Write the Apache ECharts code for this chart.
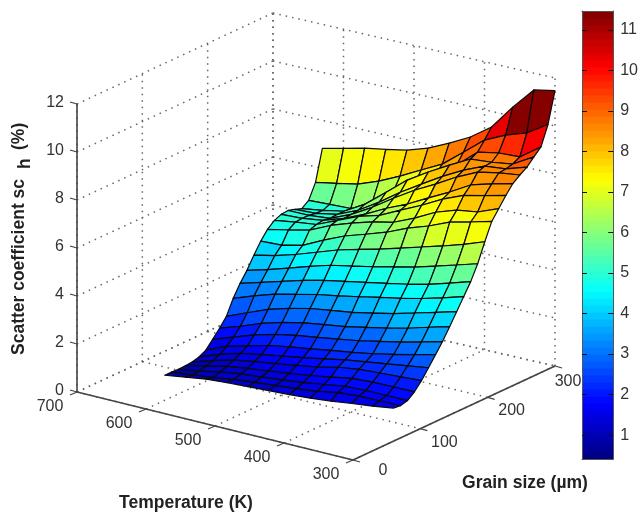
<!DOCTYPE html>
<html><head><meta charset="utf-8">
<script src="https://cdn.jsdelivr.net/npm/echarts@6/dist/echarts.min.js"></script>
<style>html,body{margin:0;padding:0;background:#fff}#c{width:641px;height:515px;filter:blur(0.4px)}</style>
</head><body><div id="c"></div>
<script>
// ---- data ----
const temperatureNodes = [630,600,570,540,510,480,450,420,390,360,330,300];
const grainNodes = [60,70.4,80.9,91.3,101.7,112.2,122.6,133,143.5,153.9,164.3,174.8,185.2,195.7,206.1,216.5,227,237.4,247.8,258.3,268.7,279.1,289.6,300];
const scatterRows = [
[.43,.56,.69,.75,.80,.84,.89,.95,1.04,1.15,1.25,1.38],
[.43,.52,.62,.75,.84,.92,1.0,1.1,1.26,1.32,1.34,1.34],
[.41,.55,.72,.85,.93,1.02,1.12,1.25,1.38,1.42,1.42,1.42],
[.43,.62,.82,.95,1.05,1.16,1.28,1.42,1.58,1.63,1.64,1.65],
[.45,.72,.95,1.1,1.22,1.36,1.5,1.7,1.82,1.88,1.93,1.98],
[.53,.85,1.1,1.25,1.4,1.55,1.7,1.87,2.0,2.12,2.25,2.38],
[.68,1.05,1.28,1.5,1.65,1.78,1.92,2.05,2.2,2.38,2.58,2.79],
[1.0,1.3,1.6,1.83,2.0,2.12,2.26,2.4,2.58,2.76,2.98,3.2],
[1.33,1.62,1.95,2.2,2.38,2.52,2.64,2.82,3.0,3.2,3.45,3.68],
[1.69,2.05,2.4,2.65,2.85,2.98,3.1,3.28,3.47,3.7,3.93,4.17],
[2.31,2.62,2.9,3.1,3.3,3.45,3.62,3.8,3.97,4.17,4.4,4.66],
[2.8,3.05,3.3,3.55,3.75,3.92,4.08,4.25,4.42,4.62,4.88,5.15],
[3.21,3.45,3.72,4.0,4.25,4.42,4.6,4.8,5.0,5.25,5.5,5.76],
[3.71,3.9,4.15,4.45,4.75,4.98,5.2,5.45,5.7,5.95,6.22,6.54],
[4.16,4.2,4.4,4.82,5.2,5.48,5.77,6.15,6.44,6.81,7.02,7.25],
[4.52,4.7,4.9,5.3,5.6,5.86,6.05,6.43,6.88,7.17,7.3,7.65],
[4.76,4.89,5.0,5.38,5.75,6.0,6.42,6.83,7.29,7.65,7.85,8.06],
[4.88,4.92,5.04,5.33,5.71,6.16,6.54,7.0,7.45,7.95,8.2,8.42],
[4.91,4.91,4.99,5.36,5.86,6.44,6.98,7.44,7.94,8.35,8.52,8.64],
[4.82,4.86,5.02,5.4,5.94,6.56,7.1,7.63,8.09,8.46,8.55,8.83],
[4.72,4.85,5.02,5.52,6.22,6.93,7.47,7.96,8.42,8.49,8.62,9.12],
[4.93,4.97,5.0,5.42,6.08,6.58,7.2,7.82,8.57,8.74,8.78,9.4],
[5.55,5.71,5.88,6.21,6.62,7.08,7.53,8.23,8.94,9.35,9.64,10.2],
[6.83,7.04,7.25,7.40,7.57,7.86,8.27,8.73,9.35,10.38,11.3,11.47]
];
const temperatureTicks = [700,600,500,400,300];
const grainTicks = [0,100,200,300];
const scatterTicks = [0,2,4,6,8,10,12];
const colorbarTicks = [1,2,3,4,5,6,7,8,9,10,11];
const colorLimits = [0.41,11.47];

// ---- scene camera: screen position of the four floor corners, and px per % ----
const FLOOR = {o:[77,392],f:[353,460],r:[555,366],b:[273,301]};
const Z_PX = 24;
function project(T,G,z){
  const a=(700-T)/400,b=G/300,u=(1-a)*(1-b),v=a*(1-b),w=a*b,t=(1-a)*b;
  return [u*FLOOR.o[0]+v*FLOOR.f[0]+w*FLOOR.r[0]+t*FLOOR.b[0],
          u*FLOOR.o[1]+v*FLOOR.f[1]+w*FLOOR.r[1]+t*FLOOR.b[1]-z*Z_PX];
}
function jet(t){
  const c=x=>Math.round(255*Math.max(0,Math.min(1,x)));
  return `rgb(${c(1.5-Math.abs(4*t-3))},${c(1.5-Math.abs(4*t-2))},${c(1.5-Math.abs(4*t-1))})`;
}
function jet64(v){
  // the deep-blue rows read a little brighter than their height in the picture
  if(v<3) v+=0.45*(1-v/3);
  const n=Math.max(0,Math.min(63,Math.floor((v-colorLimits[0])/(colorLimits[1]-colorLimits[0])*64)));
  return jet((n+.5)/64);
}
const FONT='"Liberation Sans",Arial,sans-serif', TXT='#333';

// ---- wall / floor dotted grid ----
const gridSegs=[];
temperatureTicks.forEach(T=>{
  gridSegs.push([T,0,0,T,300,0]);
  gridSegs.push([T,300,0,T,300,12]);
});
grainTicks.forEach(G=>{
  gridSegs.push([700,G,0,300,G,0]);
  gridSegs.push([700,G,0,700,G,12]);
});
scatterTicks.forEach(z=>{
  gridSegs.push([700,0,z,700,300,z]);
  gridSegs.push([700,300,z,300,300,z]);
});
// ---- solid axes ----
const axisSegs=[[700,0,0,700,0,12],[700,0,0,300,0,0],[300,0,0,300,300,0]];

// ---- surface cells, far to near ----
const cells=[];
for(let i=scatterRows.length-2;i>=0;i--)for(let j=0;j<temperatureNodes.length-1;j++)cells.push([i,j]);

function segItem(seg,api,style){
  const p=api.coord(project(seg[0],seg[1],seg[2])),q=api.coord(project(seg[3],seg[4],seg[5]));
  return {type:'line',shape:{x1:p[0],y1:p[1],x2:q[0],y2:q[1]},style};
}
function labelEl(text,p,align,extra){
  return {type:'text',x:p[0],y:p[1],silent:true,style:Object.assign({text:String(text),fill:TXT,font:'16px '+FONT,align:align||'center',verticalAlign:'middle'},extra||{})};
}
const gOff=[[30,11],[24,14],[24,13],[13,16]];

const option={
  animation:false,backgroundColor:'#fff',
  grid:[{left:0,top:0,right:0,bottom:0},{left:582,top:11,width:36,height:448}],
  xAxis:[{type:'value',min:0,max:641,show:false,gridIndex:0},
         {type:'value',min:0,max:1,gridIndex:1,z:5,axisLabel:{show:false},axisTick:{show:false},splitLine:{show:false},axisLine:{onZero:false,lineStyle:{color:'#555',width:1}}},
         {type:'value',min:0,max:1,gridIndex:1,z:5,position:'top',axisLabel:{show:false},axisTick:{show:false},splitLine:{show:false},axisLine:{onZero:false,lineStyle:{color:'#555',width:1}}}],
  yAxis:[{type:'value',min:0,max:515,inverse:true,show:false,gridIndex:0},
         {type:'value',gridIndex:1,z:5,position:'left',min:colorLimits[0],max:colorLimits[1],splitLine:{show:false},
          axisLine:{onZero:false,lineStyle:{color:'#555',width:1}},axisLabel:{show:false},
          axisTick:{inside:true,length:5,customValues:colorbarTicks,lineStyle:{color:'#111'}}},
         {type:'value',gridIndex:1,z:5,position:'right',min:colorLimits[0],max:colorLimits[1],splitLine:{show:false},
          axisLine:{onZero:false,lineStyle:{color:'#555',width:1}},
          axisLabel:{customValues:colorbarTicks,color:TXT,fontSize:16,fontFamily:'Liberation Sans',margin:7,showMinLabel:true,showMaxLabel:true},
          axisTick:{inside:true,length:5,customValues:colorbarTicks,lineStyle:{color:'#111'}}}],
  series:[
   {type:'custom',coordinateSystem:'cartesian2d',xAxisIndex:0,yAxisIndex:0,clip:false,silent:true,z:1,data:gridSegs,
    renderItem:(p,api)=>segItem(gridSegs[p.dataIndex],api,{stroke:'#666',lineWidth:1.5,lineDash:[1.5,5],fill:null})},
   {type:'custom',coordinateSystem:'cartesian2d',xAxisIndex:0,yAxisIndex:0,clip:false,silent:true,z:2,data:cells,
    renderItem:(p,api)=>{
      const [i,j]=cells[p.dataIndex];
      const pts=[[i,j],[i,j+1],[i+1,j+1],[i+1,j]].map(([r,c])=>api.coord(project(temperatureNodes[c],grainNodes[r],scatterRows[r][c])));
      return {type:'polygon',shape:{points:pts},style:{fill:jet64(scatterRows[i+1][j+1]),stroke:'#0a0a0a',lineWidth:1.2,lineJoin:'round'}};
    }},
   {type:'custom',coordinateSystem:'cartesian2d',xAxisIndex:0,yAxisIndex:0,clip:false,silent:true,z:3,data:[0],
    renderItem:(p,api)=>{
      const kids=[],ax={stroke:'#444',lineWidth:1.6,fill:null},tk={stroke:'#444',lineWidth:1.2,fill:null};
      axisSegs.forEach(s=>kids.push(segItem(s,api,ax)));
      scatterTicks.forEach(z=>{
        const q=api.coord(project(700,0,z));
        kids.push({type:'line',shape:{x1:q[0],y1:q[1],x2:q[0]-7,y2:q[1]-2},style:tk});
        kids.push(labelEl(z,[q[0]-13,q[1]-1],'right'));
      });
      temperatureTicks.forEach(T=>{
        const q=api.coord(project(T,0,0));
        kids.push({type:'line',shape:{x1:q[0],y1:q[1],x2:q[0]-7,y2:q[1]+3},style:tk});
        kids.push(labelEl(T,[q[0]-27,q[1]+15]));
      });
      grainTicks.forEach((G,k)=>{
        const q=api.coord(project(300,G,0));
        kids.push({type:'line',shape:{x1:q[0],y1:q[1],x2:q[0]+7,y2:q[1]+2},style:tk});
        kids.push(labelEl(G,[q[0]+gOff[k][0],q[1]+gOff[k][1]]));
      });
      const bold={font:'bold 17.5px '+FONT,fill:'#222'};
      kids.push(labelEl('Temperature (K)',api.coord([186,503]),'center',bold));
      kids.push(labelEl('Grain size (µm)',api.coord([525,483]),'center',bold));
      [['Scatter coefficient sc',[19,355]],['h',[25,169]],['(%)',[19,150]]].forEach(([t,xy])=>{
        const e=labelEl(t,api.coord(xy),'left',bold); e.rotation=Math.PI/2; kids.push(e);
      });
      return {type:'group',children:kids};
    }},
   {type:'custom',coordinateSystem:'cartesian2d',xAxisIndex:1,yAxisIndex:1,silent:true,z:1,data:Array.from({length:64},(_,k)=>k),
    renderItem:(p,api)=>{
      const k=p.dataIndex,s=(colorLimits[1]-colorLimits[0])/64;
      const lo=api.coord([0,colorLimits[0]+k*s]),hi=api.coord([1,colorLimits[0]+(k+1)*s]);
      return {type:'rect',shape:{x:lo[0],y:hi[1],width:hi[0]-lo[0],height:lo[1]-hi[1]+.6},style:{fill:jet((k+.5)/64)}};
    }}
  ]
};
option.series.push({type:'line',xAxisIndex:2,yAxisIndex:2,data:[],silent:true});
const chart=echarts.init(document.getElementById('c'),null,{renderer:'canvas'});
chart.setOption(option);
</script></body></html>
